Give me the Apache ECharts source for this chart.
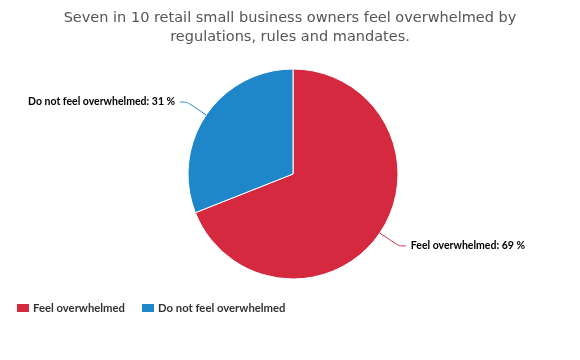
<!DOCTYPE html>
<html><head><meta charset="utf-8">
<script src="https://cdn.jsdelivr.net/npm/echarts@6/dist/echarts.min.js"></script>
<style>html,body{margin:0;padding:0;background:#fff}#c{width:580px;height:360px}</style>
</head><body><div id="c"></div>
<script>
const categories = ["Feel overwhelmed", "Do not feel overwhelmed"];
const values = [69, 31];
const colors = ["#d5293f", "#1f87c9"];
const titleText = "Seven in 10 retail small business owners feel overwhelmed by\nregulations, rules and mandates.";

const chart = echarts.init(document.getElementById('c'), null, {renderer: 'canvas'});
chart.setOption({
  animation: false,
  title: {
    text: titleText, left: 'center', top: 4,
    textStyle: {fontFamily: 'DejaVu Sans', fontSize: 14.5, fontWeight: 'normal', color: '#555', lineHeight: 19}
  },
  legend: {
    left: 10, top: 297, itemWidth: 14, itemHeight: 10, itemGap: 15,
    icon: 'rect', padding: 5,
    textStyle: {fontFamily: 'Lato', fontSize: 11.3, fontWeight: 'bold', color: '#333', padding: [0, 0, 0, -2]},
    data: categories
  },
  series: [{
    type: 'pie', center: [293, 174], radius: 105, startAngle: 90, clockwise: true,
    data: categories.map((n, i) => ({name: n, value: values[i], itemStyle: {color: colors[i]}})),
    itemStyle: {borderColor: '#fff', borderWidth: 1},
    label: {
      formatter: '{b}: {c} %', fontFamily: 'Lato', fontSize: 10.5, fontWeight: 'bold', color: '#000',
      distanceToLabelLine: 5
    },
    labelLine: {length: 23, length2: 7, smooth: 0.3, lineStyle: {width: 1}},
  }]
});
</script></body></html>
